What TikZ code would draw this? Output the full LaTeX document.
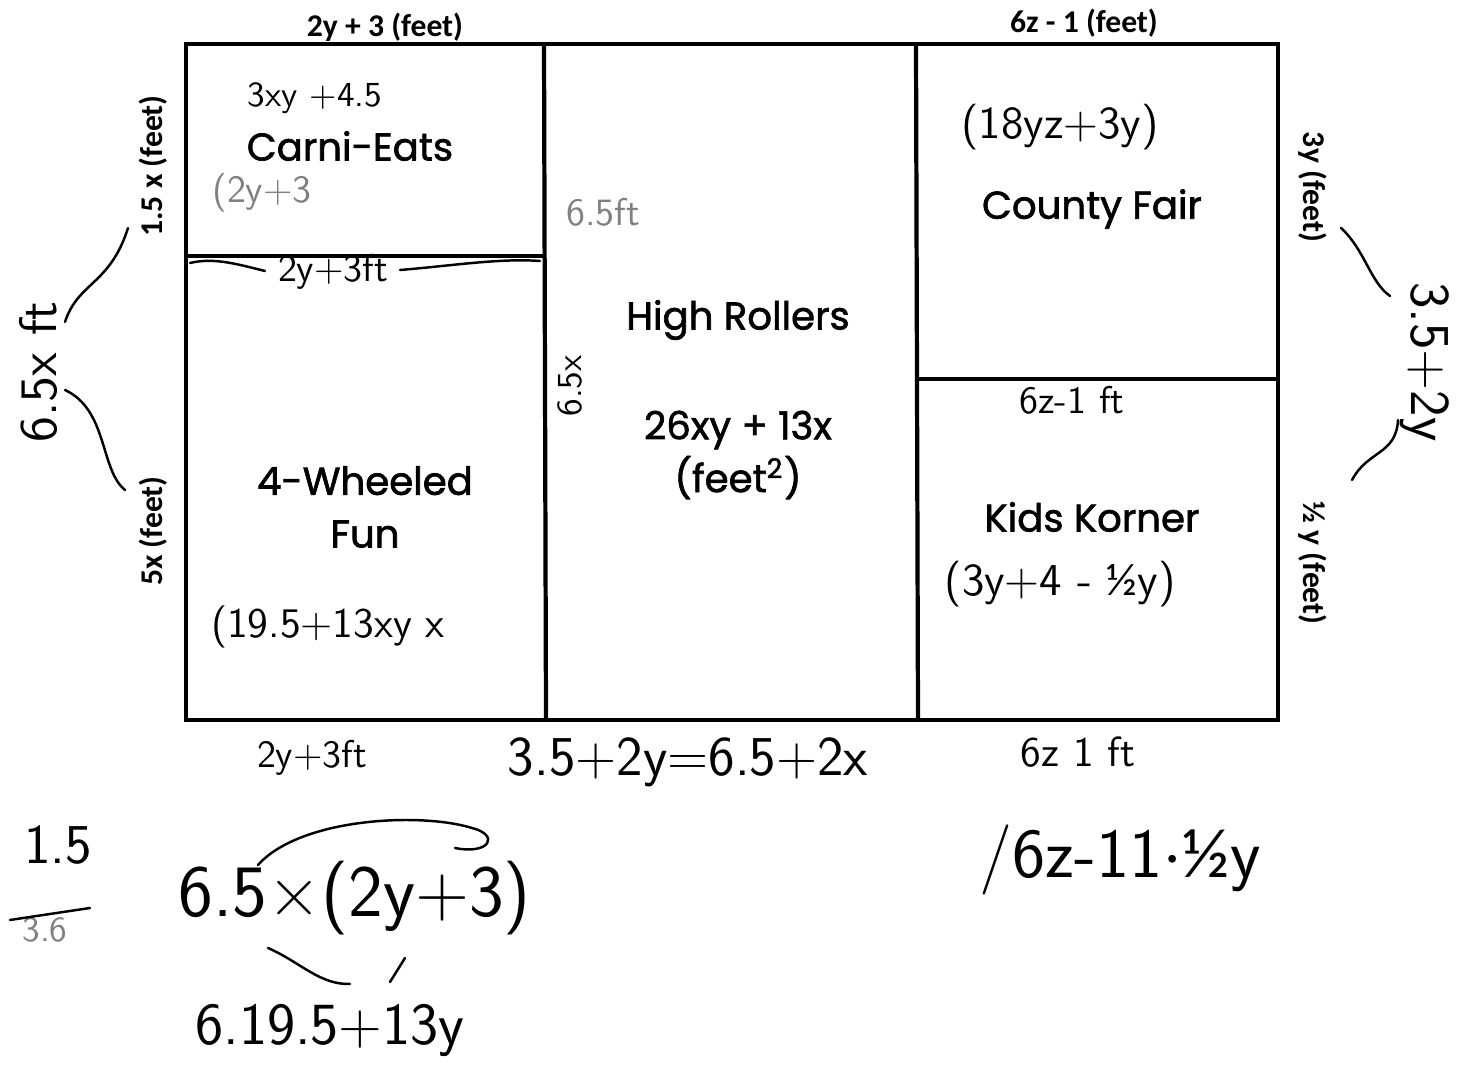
\documentclass[tikz,border=0pt]{standalone}
\usepackage{fontspec}
\newfontfamily\labfont{Carlito}
\newfontfamily\comicfont{Poppins}[BoldFont={Poppins}, BoldFeatures={FakeBold=1.6}]
\newcommand{\halfglyph}{{\labfont ½}}
\begin{document}
\begin{tikzpicture}[x=0.01cm,y=-0.01cm,
  printed/.style={font=\labfont\bfseries\fontsize{9}{11}\selectfont, inner sep=0pt},
  region/.style={font=\comicfont\bfseries\fontsize{11}{15}\selectfont, align=center, inner sep=0pt},
  hand/.style={font=\sffamily\fontsize{#1}{#1}\selectfont, inner sep=0pt},
  hand/.default=12,
  wall/.style={line width=1.2pt},
  pen/.style={line width=0.7pt, line cap=round}]
\useasboundingbox (0,0) rectangle (1469,1071);
\fill[white] (0,0) rectangle (1469,1071);
% plan
\draw[wall] (186,44) rectangle (1278,720);
\draw[wall] (544,44) -- (546,720);
\draw[wall] (916,44) -- (918,720);
\draw[wall] (186,256) -- (545,256);
\draw[wall] (917,379) -- (1278,379);
% printed dimension labels
\node[printed] (top1) at (385,27) {2y + 3 (feet)};
\node[printed] (top2) at (1084,23) {6z - 1 (feet)};
\node[printed, rotate=90] (l1) at (153,166) {1.5 x (feet)};
\node[printed, rotate=90] (l2) at (153,531) {5x (feet)};
\node[printed, rotate=-90] (r1) at (1313,187) {3y (feet)};
\node[printed, rotate=-90] (r2) at (1313,563) {½ y (feet)};
% region names
\node[region] (carni) at (350,146) {Carni-Eats};
\node[region] (county) at (1092,209) {County Fair};
\node[region] (high) at (738,320) {High Rollers};
\node[region] (area) at (738,455) {26xy + 13x\\(feet\textsuperscript{2})};
\node[region] (wheel) at (365,507) {4-Wheeled\\Fun};
\node[region] (kids) at (1092,517) {Kids Korner};
% handwritten notes
\node[hand=10] (h1) at (315,98) {3xy +4.5};
\node[hand=11, gray] (h2) at (262,193) {(2y+3};
\node[hand=11, gray] (h3) at (603,212) {6.5ft};
\node[hand=11] (h4) at (333,272) {2y+3ft};
\node[hand=10, rotate=90] (h5) at (570,386) {6.5x};
\node[hand=13] (h6) at (1060,127) {(18yz+3y)};
\node[hand=11] (h7) at (1072,400) {6z-1 ft};
\node[hand=13] (h8) at (1060,584) {(3y+4 - \halfglyph y)};
\node[hand=12] (h9) at (328,627) {(19.5+13xy x};
\node[hand=11] (h10) at (312,758) {2y+3ft};
\node[hand=16] (h11) at (688,762) {3.5+2y=6.5+2x};
\node[hand=12] (h12) at (1078,752) {6z 1 ft};
\node[hand=20] (h13) at (1120,860) {/6z-11$\cdot$\halfglyph y};
\node[hand=21] (h14) at (355,898) {6.5×(2y+3)};
\node[hand=17] (h15) at (330,1030) {6.19.5+13y};
\node[hand=16] (h16) at (58,845) {1.5};
\node[hand=10, gray] (h17) at (45,930) {3.6};
\node[hand=15, rotate=90] (h18) at (38,372) {6.5x ft};
\node[hand=16, rotate=-90] (h19) at (1425,362) {3.5+2y};
% pen strokes
\draw[pen] (10,920) -- (90,908);
\draw[pen] (128,228) .. controls (110,285) and (78,282) .. (65,322);
\draw[pen] (65,390) .. controls (108,410) and (100,470) .. (125,490);
\draw[pen] (1341,228) .. controls (1365,250) and (1370,282) .. (1390,296);
\draw[pen] (1398,420) .. controls (1396,455) and (1368,450) .. (1352,480);
\draw[pen] (258,865) .. controls (300,818) and (420,812) .. (472,828) .. controls (500,835) and (490,855) .. (455,848);
\draw[pen] (268,948) .. controls (300,962) and (320,985) .. (350,984);
\draw[pen] (405,958) -- (390,982);
\draw[pen] (190,263) .. controls (215,257) and (240,265) .. (265,271);
\draw[pen] (400,270) .. controls (450,266) and (500,258) .. (540,261);
\end{tikzpicture}
\end{document}
